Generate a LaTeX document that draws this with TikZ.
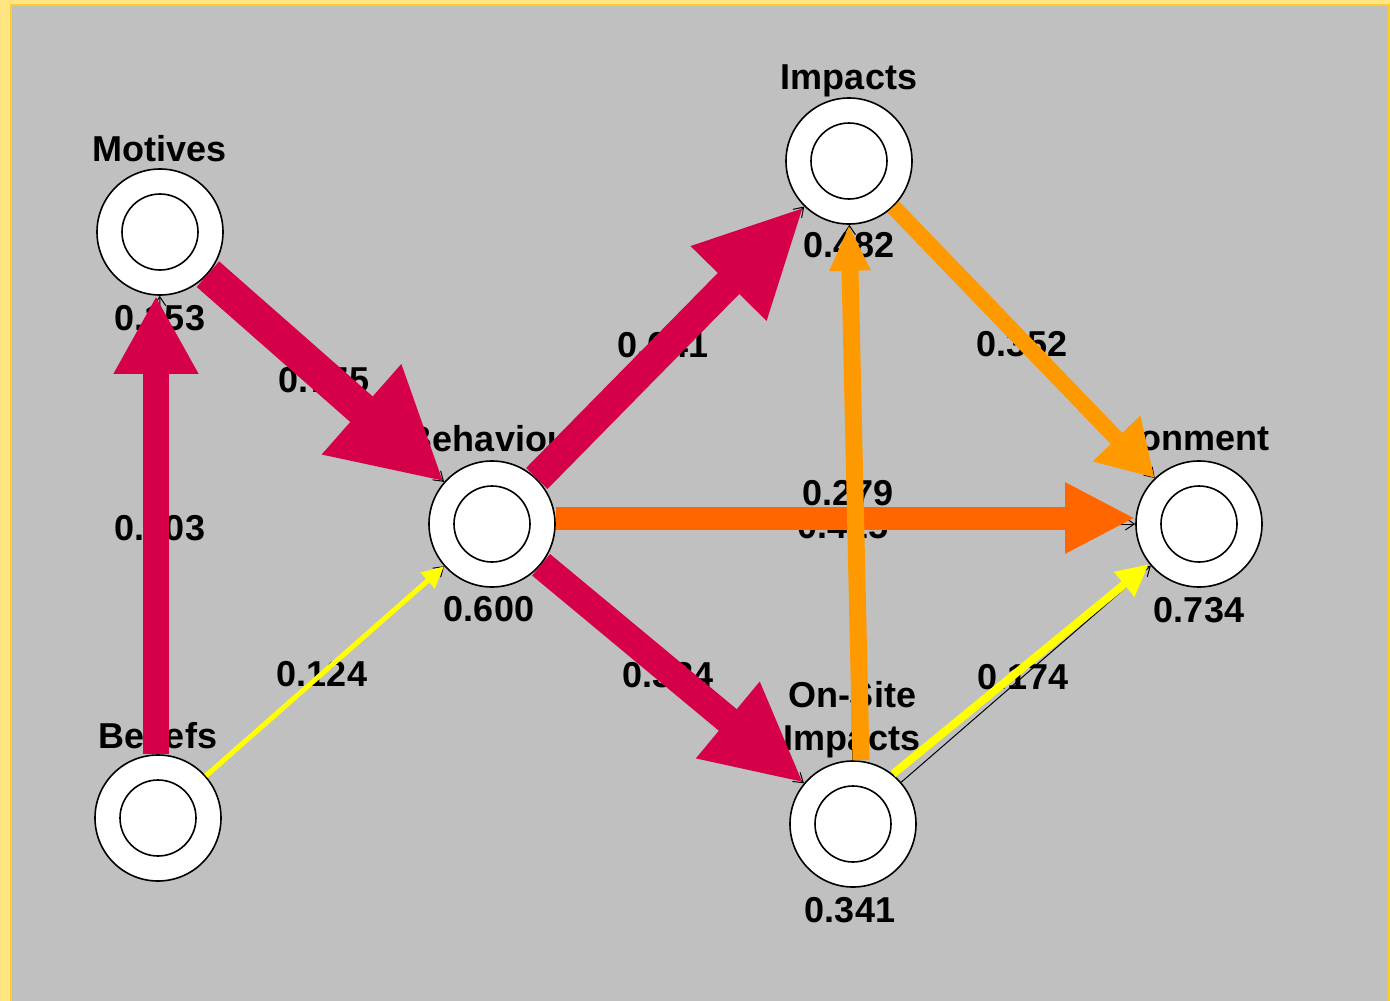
\documentclass[tikz,border=0pt]{standalone}
\usepackage{fontspec}
\setmainfont{Liberation Sans}
\usetikzlibrary{arrows.meta}
\definecolor{panelgray}{RGB}{192,192,192}
\definecolor{paleyel}{RGB}{255,230,130}
\definecolor{goldline}{RGB}{255,204,40}
\definecolor{crim}{RGB}{214,0,74}
\definecolor{deeporange}{RGB}{255,102,0}
\definecolor{amber}{RGB}{255,153,0}
\definecolor{lemon}{RGB}{255,255,0}
\begin{document}
\begin{tikzpicture}[x=1pt,y=-1pt,
  concept/.style={circle, draw=black, line width=1.6pt, fill=white,
    minimum size=126pt, inner sep=0pt,
    path picture={\draw[line width=1.6pt] (path picture bounding box.center) circle (38pt);}},
  lbl/.style={font=\fontsize{36}{40}\selectfont\bfseries, inner sep=0pt, anchor=base},
  ghost/.style={draw=black, line width=1pt, -{Straight Barb[length=9pt,width=12pt]}},
  link/.style n args={4}{draw=#1, line width=#2, -{Triangle[length=#3,width=#4]}},
]
% frame and panel
\useasboundingbox (0,0) rectangle (1390,1001);
\fill[paleyel] (0,0) rectangle (1390,1001);
\fill[panelgray] (12,6) rectangle (1388,1001);
\draw[goldline, line width=2pt] (11,1001) -- (11,5) -- (1389,5) -- (1389,1001);

% concepts
\node[concept] (motives)   at (160,232) {};
\node[concept] (behaviour) at (492,524) {};
\node[concept] (impacts)   at (849,161) {};
\node[concept] (environment) at (1199,524) {};
\node[concept] (onsite)    at (853,824) {};
\node[concept] (beliefs)   at (158,818) {};

% concept names and values
\node[lbl] (motivesname) at (160,161) {Motives};
\node[lbl] (motivesval)  at (160,330) {0.153};
\node[lbl] (behname)     at (495,451) {Behaviour};
\node[lbl] (behval)      at (489,621) {0.600};
\node[lbl] (impname)     at (849,89) {Impacts};
\node[lbl] (impval)      at (849,257) {0.482};
\begin{scope}
  \clip (1130,400) rectangle (1300,470);
  \node[lbl, anchor=base east] (envname) at (1270,450) {Environment};
\end{scope}
\node[lbl] (envval)      at (1199,622) {0.734};
\node[lbl] (onname1)     at (852,707) {On-Site};
\node[lbl] (onname2)     at (852,750) {Impacts};
\node[lbl] (onval)       at (850,922) {0.341};
\node[lbl] (belname)     at (158,748) {Beliefs};

% weights
\node[lbl] (w1) at (160,540) {0.803};
\node[lbl] (w2) at (324,392) {0.775};
\node[lbl] (w3) at (663,357) {0.641};
\node[lbl] (w4) at (1022,356) {0.352};
\node[lbl] (w5) at (848,505) {0.279};
\node[lbl] (w6) at (843,538) {0.425};
\node[lbl] (w7) at (322,686) {0.124};
\node[lbl] (w8) at (1023,689) {0.174};
\node[lbl] (w9) at (668,687) {0.384};

% thin underlying connectors
\draw[ghost] (beliefs) -- (motives);
\draw[ghost] (motives) -- (behaviour);
\draw[ghost] (behaviour) -- (impacts);
\draw[ghost] (behaviour) -- (onsite);
\draw[ghost] (behaviour) -- (environment);
\draw[ghost] (impacts) -- (environment);
\draw[ghost] (onsite) -- (impacts);
\draw[ghost] (beliefs) -- (behaviour);
\draw[ghost] (onsite) -- (environment);

% weighted connectors
\draw[link={crim}{26pt}{78pt}{79pt}] ([xshift=-2pt]beliefs.north) -- ([xshift=-4pt]motives.south);
\draw[link={crim}{34pt}{110pt}{112pt}] (motives) -- (behaviour);
\draw[link={crim}{30pt}{108pt}{98pt}] (behaviour) -- (impacts);
\draw[link={crim}{28pt}{99pt}{92pt}] (behaviour) -- (onsite);
\draw[link={deeporange}{23pt}{70pt}{66pt}] ([yshift=6pt]behaviour.east) -- ([yshift=6pt]environment.west);
\draw[link={amber}{16pt}{55pt}{62pt}] (impacts) -- (environment);
\draw[link={amber}{17pt}{46pt}{38pt}] ([xshift=8pt]onsite.north) -- (impacts.south);
\draw[link={lemon}{5pt}{22pt}{20pt}] (beliefs) -- (behaviour);
\draw[link={lemon}{8pt}{32pt}{30pt}] ([xshift=-5pt,yshift=5pt]onsite.north east) -- ([xshift=-5pt,yshift=5pt]environment.south west);
\end{tikzpicture}
\end{document}
